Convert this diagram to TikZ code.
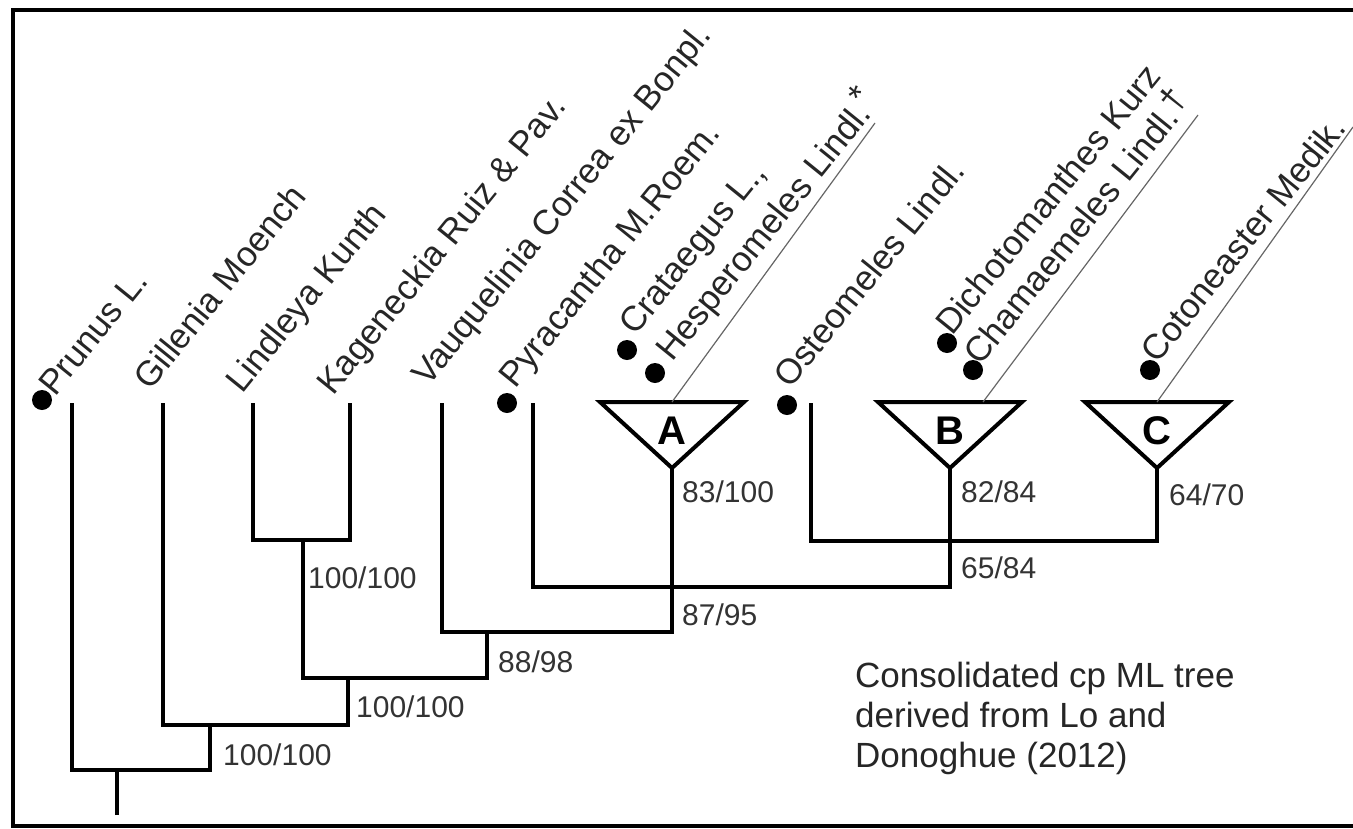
\documentclass[tikz,border=0pt]{standalone}
\usepackage{fontspec}
\setmainfont{Liberation Sans}
\begin{document}
\begin{tikzpicture}[x=1pt,y=-1pt,
    branch/.style={line width=3.6pt,line join=miter},
    clade/.style={line width=4pt,line join=miter},
    cladelab/.style={font=\fontsize{40}{40}\selectfont\bfseries,inner sep=0pt},
    taxon/.style={font=\fontsize{35}{40}\selectfont,text=black!85,rotate=51,anchor=base west,inner sep=0pt},
    supp/.style={font=\fontsize{30}{30}\selectfont,text=black!80,anchor=west,inner sep=0pt},
    tipdot/.style={circle,fill=black,inner sep=0pt,minimum size=20pt},
    uline/.style={line width=1.2pt,black!60}]
  \useasboundingbox (0,0) rectangle (1353,828);
  \draw[line width=4pt] (1353,826) -- (13,826) -- (13,10) -- (1353,10);
  % tips and inner nodes
  \coordinate (tPru) at (72,403);
  \coordinate (tGil) at (163,403);
  \coordinate (tLin) at (253,403);
  \coordinate (tKag) at (350,403);
  \coordinate (tVau) at (442,403);
  \coordinate (tPyr) at (533,403);
  \coordinate (tOst) at (811,403);
  \coordinate (aA) at (672,468);
  \coordinate (aB) at (950,468);
  \coordinate (aC) at (1157,468);
  \coordinate (base) at (117,815);
  \coordinate (r) at (117,770);
  \coordinate (n2) at (210,725);
  \coordinate (n3) at (348,678);
  \coordinate (n4) at (303,540);
  \coordinate (n5) at (487,632);
  \coordinate (n6) at (672,587);
  \coordinate (n7) at (950,541);
  % branches
  \draw[branch] (base) -- (r);
  \draw[branch] (tPru) |- (r) -| (n2);
  \draw[branch] (tGil) |- (n2) -| (n3);
  \draw[branch] (n4) |- (n3) -| (n5);
  \draw[branch] (tLin) |- (n4) -| (tKag);
  \draw[branch] (tVau) |- (n5) -| (n6);
  \draw[branch] (tPyr) |- (n6) -| (n7);
  \draw[branch] (aA) -- (n6);
  \draw[branch] (tOst) |- (n7) -| (aC);
  \draw[branch] (aB) -- (n7);
  % collapsed clades
  \draw[clade] (aA) -- ++(-72,-66) -- ++(144,0) -- cycle;
  \draw[clade] (aB) -- ++(-72,-66) -- ++(144,0) -- cycle;
  \draw[clade] (aC) -- ++(-72,-66) -- ++(144,0) -- cycle;
  \node[cladelab] (cA) at (672,431) {A};
  \node[cladelab] (cB) at (950,431) {B};
  \node[cladelab] (cC) at (1157,431) {C};
  \coordinate (topA) at (672,402);
  \coordinate (topB) at (983,402);
  \coordinate (topC) at (1157,402);
  \coordinate (endA) at (875,123);
  \coordinate (endB) at (1198,115);
  \coordinate (endC) at (1353,127);
  \draw[uline] (topA) -- (endA);
  \draw[uline] (topB) -- (endB);
  \draw[uline] (topC) -- (endC);
  % dots
  \node[tipdot] (dPru) at (42,400) {};
  \node[tipdot] (dPyr) at (507,403) {};
  \node[tipdot] (dCra) at (627,350) {};
  \node[tipdot] (dHes) at (655,373) {};
  \node[tipdot] (dOst) at (787,405) {};
  \node[tipdot] (dDic) at (947,343) {};
  \node[tipdot] (dCha) at (973,370) {};
  \node[tipdot] (dCot) at (1150,370) {};
  % taxon names
  \node[taxon] (lPru) at (55,398) {Prunus L.};
  \node[taxon] (lGil) at (150,392) {Gillenia Moench};
  \node[taxon] (lLin) at (242,395) {Lindleya Kunth};
  \node[taxon] (lKag) at (333,397) {Kageneckia Ruiz \& Pav.};
  \node[taxon] (lVau) at (428,388) {Vauquelinia Correa ex Bonpl.};
  \node[taxon] (lPyr) at (515,390) {Pyracantha M.Roem.};
  \node[taxon] (lCra) at (635,337) {Crataegus L.,};
  \node[taxon] (lHes) at (672,363) {Hesperomeles Lindl.\raisebox{0.3em}{*}};
  \node[taxon] (lOst) at (790,390) {Osteomeles Lindl.};
  \node[taxon] (lDic) at (952,337) {Dichotomanthes Kurz};
  \node[taxon] (lCha) at (980,367) {Chamaemeles Lindl.\raisebox{0.2em}{†}};
  \node[taxon] (lCot) at (1157,365) {Cotoneaster Medik.};
  % support values
  \node[supp] (s1) at (223,755) {100/100};
  \node[supp] (s2) at (356,707) {100/100};
  \node[supp] (s3) at (308,578) {100/100};
  \node[supp] (s4) at (498,662) {88/98};
  \node[supp] (s5) at (682,615) {87/95};
  \node[supp] (s6) at (682,492) {83/100};
  \node[supp] (s7) at (961,568) {65/84};
  \node[supp] (s8) at (961,492) {82/84};
  \node[supp] (s9) at (1169,495) {64/70};
  \node[anchor=north west,align=left,inner sep=0pt,text=black!85,
    font=\fontsize{35}{40}\selectfont] (note) at (855,662)
    {Consolidated cp ML tree\\derived from Lo and\\Donoghue (2012)};
\end{tikzpicture}
\end{document}
